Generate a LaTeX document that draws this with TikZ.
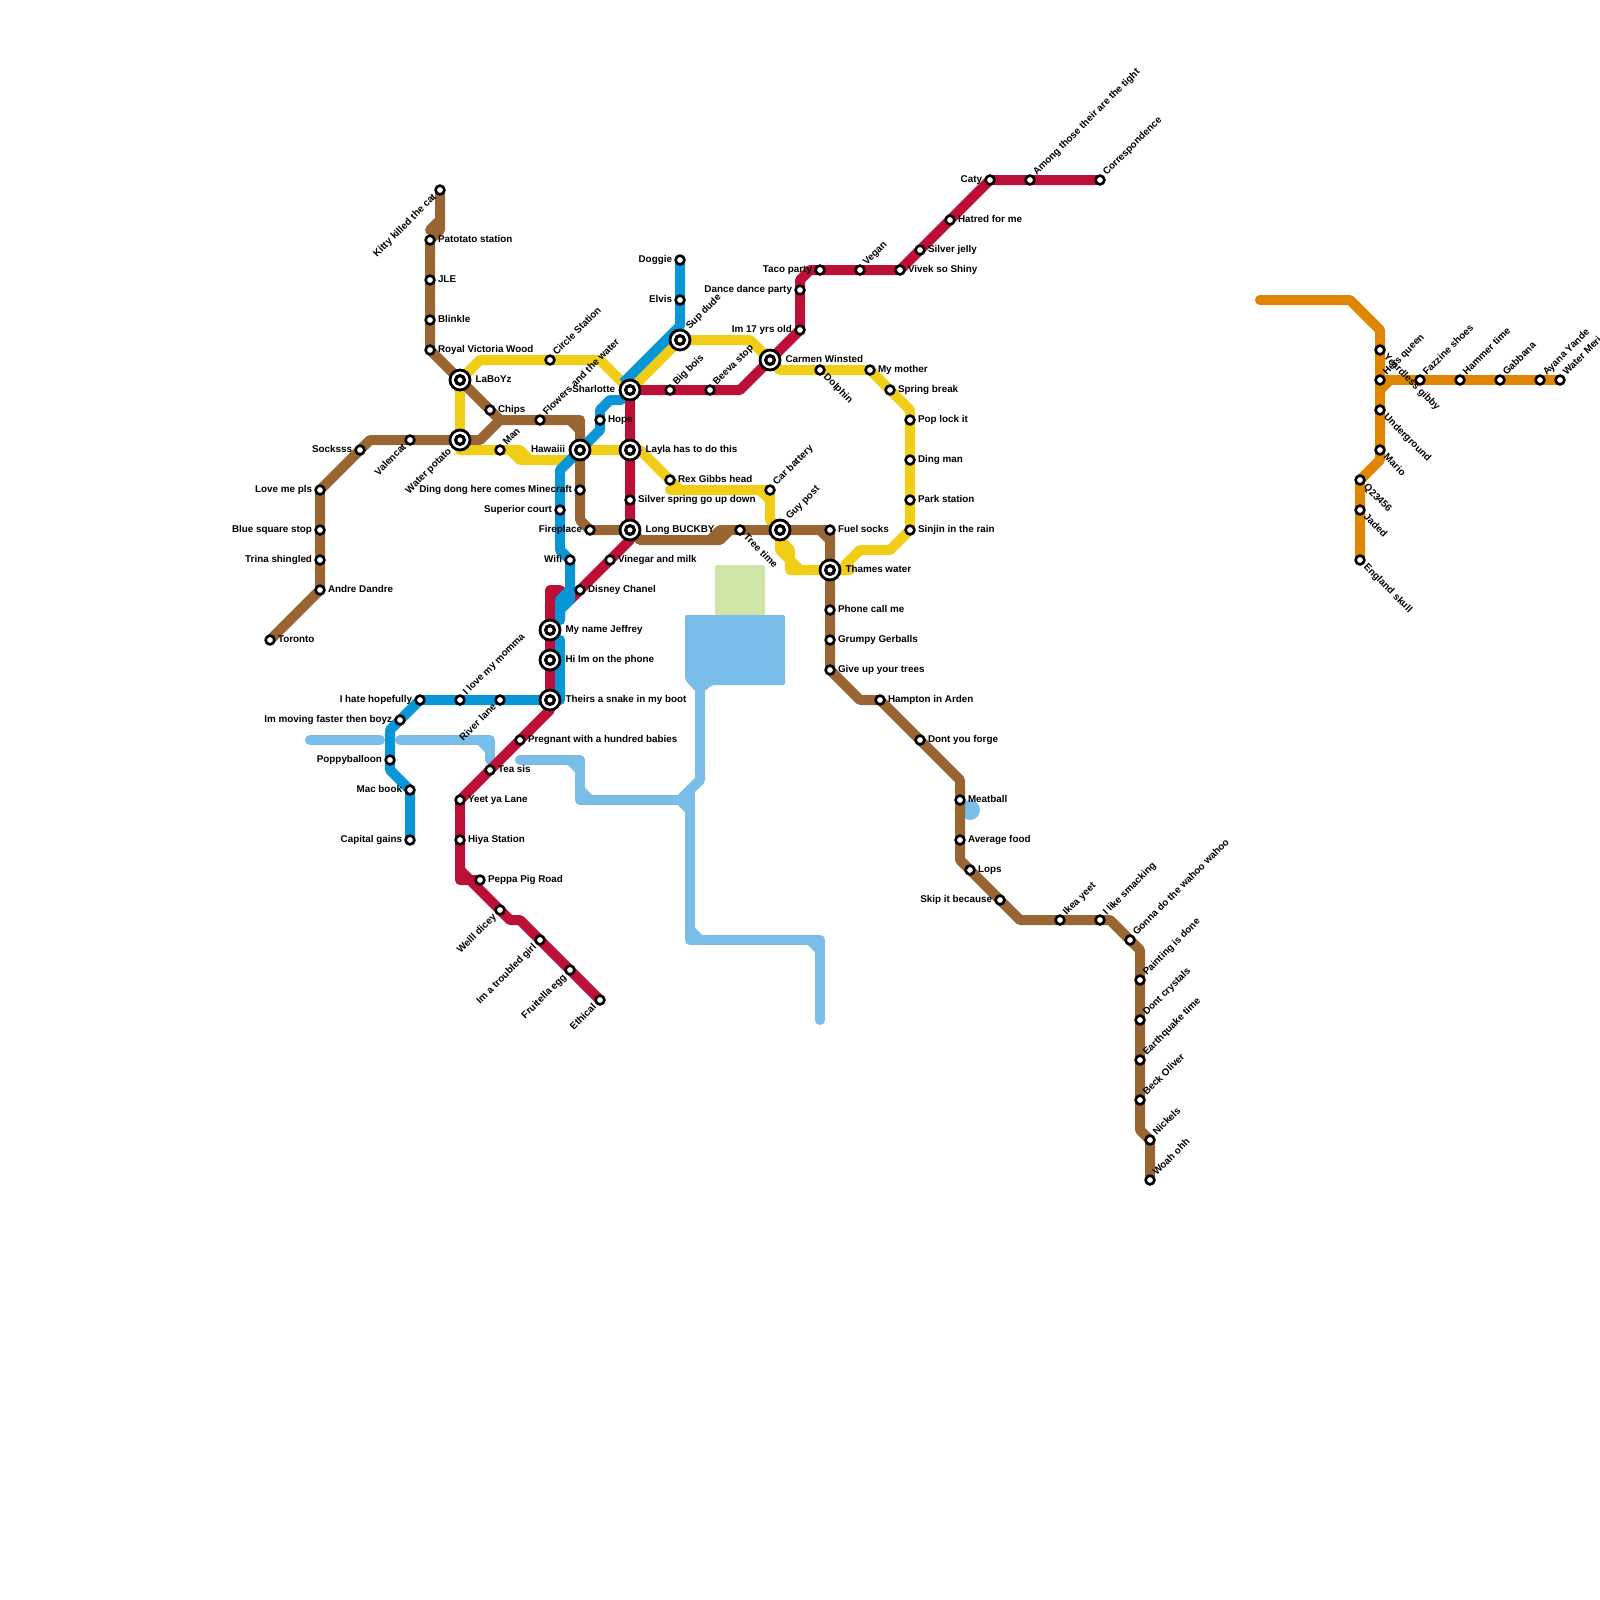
\documentclass[tikz,border=0pt]{standalone}
\usepackage{fontspec}
\setmainfont{Liberation Sans}
\pgfdeclarelayer{lines}
\pgfsetlayers{lines,main}
\definecolor{cbrown}{HTML}{996633}
\definecolor{cyellow}{HTML}{F0CE15}
\definecolor{cred}{HTML}{BD1038}
\definecolor{cblue}{HTML}{0896D7}
\definecolor{clight}{HTML}{79BDE9}
\definecolor{cgreen}{HTML}{CFE4A7}
\definecolor{corange}{HTML}{DF8600}
\tikzset{
  dot/.style={circle,draw=black,fill=white,line width=2.6pt,minimum size=8.8pt,inner sep=0pt,outer sep=0pt},
  hub/.style={circle,draw=black,fill=white,line width=2.8pt,minimum size=20pt,inner sep=0pt,outer sep=0pt},
  hubin/.style={circle,draw=black,fill=white,line width=3.2pt,minimum size=8.8pt,inner sep=0pt,outer sep=0pt},
  txt/.style={font=\fontsize{9.85}{12}\selectfont\bfseries,inner sep=0pt,outer sep=0pt,text height=7pt,text depth=2pt,text=black},
  tr/.style={txt,anchor=west,xshift=8pt,yshift=0pt},
  tl/.style={txt,anchor=east,xshift=-8pt,yshift=0pt},
  hr/.style={txt,anchor=west,xshift=15.5pt,yshift=0pt},
  hl/.style={txt,anchor=east,xshift=-15pt,yshift=0pt},
  tur/.style={txt,anchor=west,xshift=5pt,yshift=6pt,rotate=45},
  hur/.style={txt,anchor=west,xshift=8pt,yshift=12pt,rotate=45},
  tdl/.style={txt,anchor=east,xshift=-5pt,yshift=-6pt,rotate=45},
  hdl/.style={txt,anchor=east,xshift=-10pt,yshift=-10pt,rotate=45},
  tdr/.style={txt,anchor=west,xshift=5pt,yshift=-6pt,rotate=-45},
  mline/.style={line width=10pt,line join=round,line cap=round},
  yl/.style={mline,cyellow},
  br/.style={mline,cbrown},
  rd/.style={mline,cred},
  bl/.style={mline,cblue},
  lb/.style={mline,clight},
  og/.style={mline,corange},
}
\newcommand{\stn}[5]{\node[dot] (#1) at (#2,#3) {}; \node[#4] (#1-t) at (#2,#3) {#5};}
\newcommand{\hb}[5]{\node[hub] (#1) at (#2,#3) {}; \node[hubin] (#1-i) at (#2,#3) {}; \node[#4] (#1-t) at (#2,#3) {#5};}
\begin{document}
\begin{tikzpicture}[x=1pt,y=-1pt]
\useasboundingbox (0,0) rectangle (1600,1600);
\clip (0,0) rectangle (1600,1600);
% brown
\stn{kitty}{440}{190}{tdl}{Kitty killed the cat}
\stn{pat}{430}{240}{tr}{Patotato station}
\stn{jle}{430}{280}{tr}{JLE}
\stn{blink}{430}{320}{tr}{Blinkle}
\stn{royal}{430}{350}{tr}{Royal Victoria Wood}
\hb{labo}{460}{380}{hr}{LaBoYz}
\stn{chips}{490}{410}{tr}{Chips}
\hb{wpot}{460}{440}{hdl}{Water potato}
\stn{valen}{410}{440}{tdl}{Valencat}
\stn{sock}{360}{450}{tl}{Socksss}
\stn{love}{320}{490}{tl}{Love me pls}
\stn{bsq}{320}{530}{tl}{Blue square stop}
\stn{trina}{320}{560}{tl}{Trina shingled}
\stn{andre}{320}{590}{tr}{Andre Dandre}
\stn{toronto}{270}{640}{tr}{Toronto}
\stn{flowers}{540}{420}{tur}{Flowers and the water}
\hb{haw}{580}{450}{hl}{Hawaiii}
\stn{dingd}{580}{490}{tl}{Ding dong here comes Minecraft}
\stn{fire}{590}{530}{tl}{Fireplace}
\hb{long}{630}{530}{hr}{Long BUCKBY}
\stn{tree}{740}{530}{tdr}{Tree time}
\hb{guy}{780}{530}{hur}{Guy post}
\stn{fuel}{830}{530}{tr}{Fuel socks}
\hb{thames}{830}{570}{hr}{Thames water}
\stn{phone}{830}{610}{tr}{Phone call me}
\stn{grumpy}{830}{640}{tr}{Grumpy Gerballs}
\stn{giveup}{830}{670}{tr}{Give up your trees}
\stn{hampton}{880}{700}{tr}{Hampton in Arden}
\stn{dont}{920}{740}{tr}{Dont you forge}
\stn{meat}{960}{800}{tr}{Meatball}
\stn{avg}{960}{840}{tr}{Average food}
\stn{lops}{970}{870}{tr}{Lops}
\stn{skip}{1000}{900}{tl}{Skip it because}
\stn{ikea}{1060}{920}{tur}{Ikea yeet}
\stn{ilike}{1100}{920}{tur}{I like smacking}
\stn{gonna}{1130}{940}{tur}{Gonna do the wahoo wahoo}
\stn{paint}{1140}{980}{tur}{Painting is done}
\stn{dcry}{1140}{1020}{tur}{Dont crystals}
\stn{earth}{1140}{1060}{tur}{Earthquake time}
\stn{beck}{1140}{1100}{tur}{Beck Oliver}
\stn{nick}{1150}{1140}{tur}{Nickels}
\stn{woah}{1150}{1180}{tur}{Woah ohh}
% yellow
\stn{man}{500}{450}{tur}{Man}
\stn{circ}{550}{360}{tur}{Circle Station}
\hb{sharl}{630}{390}{hl}{Sharlotte}
\hb{layla}{630}{450}{hr}{Layla has to do this}
\stn{rex}{670}{480}{tr}{Rex Gibbs head}
\stn{carb}{770}{490}{tur}{Car battery}
\hb{supd}{680}{340}{hur}{Sup dude}
\hb{carmen}{770}{360}{hr}{Carmen Winsted}
\stn{dolph}{820}{370}{tdr}{Dolphin}
\stn{mother}{870}{370}{tr}{My mother}
\stn{spring}{890}{390}{tr}{Spring break}
\stn{pop}{910}{420}{tr}{Pop lock it}
\stn{dingm}{910}{460}{tr}{Ding man}
\stn{park}{910}{500}{tr}{Park station}
\stn{sinjin}{910}{530}{tr}{Sinjin in the rain}
% red
\stn{silvsp}{630}{500}{tr}{Silver spring go up down}
\stn{vine}{610}{560}{tr}{Vinegar and milk}
\stn{disney}{580}{590}{tr}{Disney Chanel}
\hb{jeff}{550}{630}{hr}{My name Jeffrey}
\hb{hiim}{550}{660}{hr}{Hi Im on the phone}
\hb{theirs}{550}{700}{hr}{Theirs a snake in my boot}
\stn{preg}{520}{740}{tr}{Pregnant with a hundred babies}
\stn{tea}{490}{770}{tr}{Tea sis}
\stn{yeet}{460}{800}{tr}{Yeet ya Lane}
\stn{hiya}{460}{840}{tr}{Hiya Station}
\stn{peppa}{480}{880}{tr}{Peppa Pig Road}
\stn{welll}{500}{910}{tdl}{Welll dicey}
\stn{itg}{540}{940}{tdl}{Im a troubled girl}
\stn{fruit}{570}{970}{tdl}{Fruitella egg}
\stn{ethical}{600}{1000}{tdl}{Ethical}
\stn{bigb}{670}{390}{tur}{Big bois}
\stn{beeva}{710}{390}{tur}{Beeva stop}
\stn{imsev}{800}{330}{tl}{Im 17 yrs old}
\stn{dance}{800}{290}{tl}{Dance dance party}
\stn{taco}{820}{270}{tl}{Taco party}
\stn{vegan}{860}{270}{tur}{Vegan}
\stn{vivek}{900}{270}{tr}{Vivek so Shiny}
\stn{sjelly}{920}{250}{tr}{Silver jelly}
\stn{hatred}{950}{220}{tr}{Hatred for me}
\stn{caty}{990}{180}{tl}{Caty}
\stn{among}{1030}{180}{tur}{Among those their are the tight}
\stn{corr}{1100}{180}{tur}{Correspondence}
% blue
\stn{doggie}{680}{260}{tl}{Doggie}
\stn{elvis}{680}{300}{tl}{Elvis}
\stn{hope}{600}{420}{tr}{Hope}
\stn{sup}{560}{510}{tl}{Superior court}
\stn{wifi}{570}{560}{tl}{Wifi}
\stn{river}{500}{700}{tdl}{River lane}
\stn{ilove}{460}{700}{tur}{I love my momma}
\stn{ihate}{420}{700}{tl}{I hate hopefully}
\stn{immov}{400}{720}{tl}{Im moving faster then boyz}
\stn{poppy}{390}{760}{tl}{Poppyballoon}
\stn{mac}{410}{790}{tl}{Mac book}
\stn{capital}{410}{840}{tl}{Capital gains}
% orange
\stn{hers}{1380}{350}{tdr}{Yeardless gibby}
\stn{yeardl}{1380}{380}{tur}{Hers queen}
\stn{under}{1380}{410}{tdr}{Underground}
\stn{mario}{1380}{450}{tdr}{Mario}
\stn{qnum}{1360}{480}{tdr}{Q23456}
\stn{jaded}{1360}{510}{tdr}{Jaded}
\stn{england}{1360}{560}{tdr}{England skull}
\stn{fazz}{1420}{380}{tur}{Fazzine shoes}
\stn{hammer}{1460}{380}{tur}{Hammer time}
\stn{gabb}{1500}{380}{tur}{Gabbana}
\stn{ayana}{1540}{380}{tur}{Ayana Yande}
\stn{water}{1560}{380}{tur}{Water Meri}

\begin{pgfonlayer}{lines}
% pale shapes
\fill[cgreen,rounded corners=2pt] (715,565) rectangle (765,616);
\fill[clight,rounded corners=2pt] (685,615) -- (785,615) -- (785,685) -- (712,685) -- (705,691) -- (695,691) -- (685,680) -- cycle;
\fill[clight] (970,810) circle (10pt);
\draw[lb] (700,685) -- (700,780) -- (680,800);
\draw[lb] (690,790) -- (690,940) -- (820,940) -- (820,1020);
\draw[lb] (690,930) -- (700,940);
\draw[lb] (810,940) -- (820,950);
\draw[lb] (520,760) -- (580,760) -- (580,800) -- (690,800);
\draw[lb] (570,760) -- (580,770);
\draw[lb] (580,790) -- (590,800);
\draw[lb] (680,800) -- (690,810);
\draw[lb] (310,740) -- (380,740);
\draw[lb] (400,740) -- (490,740) -- (490,760);
\draw[lb] (480,740) -- (490,750);
% yellow
\draw[yl] (460,450) -- (wpot.center) -- (labo.center) -- (480,360) -- (circ.center) -- (600,360) -- (sharl.center) -- (supd.center) -- (750,340) -- (carmen.center) -- (780,370) -- (dolph.center) -- (mother.center) -- (spring.center) -- (910,410) -- (pop.center) -- (dingm.center) -- (park.center) -- (sinjin.center) -- (890,550) -- (860,550) -- (845,565);
\draw[yl] (460,450) -- (man.center) -- (520,450) -- (530,460) -- (570,460) -- (haw.center) -- (layla.center) -- (640,450) -- (680,490) -- (670,490) -- (carb.center) -- (770,520) -- (guy.center) -- (780,550) -- (790,560) -- (790,570) -- (thames.center) -- (850,570);
\draw[yl] (510,450) -- (520,460) -- (530,460);
\draw[yl] (760,490) -- (770,500);
\draw[yl] (780,540) -- (790,550) -- (790,560) -- (800,570);
% brown
\draw[br] (kitty.center) -- (440,230) -- (pat.center) -- (jle.center) -- (blink.center) -- (royal.center) -- (labo.center) -- (chips.center) -- (500,420) -- (flowers.center) -- (580,420) -- (haw.center) -- (dingd.center) -- (580,520) -- (fire.center) -- (long.center) -- (640,540) -- (720,540) -- (730,530) -- (tree.center) -- (guy.center) -- (fuel.center) -- (thames.center) -- (phone.center) -- (grumpy.center) -- (giveup.center) -- (860,700) -- (hampton.center) -- (dont.center) -- (960,780) -- (meat.center) -- (avg.center) -- (960,860) -- (lops.center) -- (skip.center) -- (1020,920) -- (ikea.center) -- (ilike.center) -- (1110,920) -- (gonna.center) -- (1140,950) -- (paint.center) -- (dcry.center) -- (earth.center) -- (beck.center) -- (1140,1130) -- (nick.center) -- (woah.center);
\draw[br] (wpot.center) -- (valen.center) -- (370,440) -- (sock.center) -- (love.center) -- (bsq.center) -- (trina.center) -- (andre.center) -- (toronto.center);
\draw[br] (wpot.center) -- (480,440) -- (500,420);
\draw[br] (440,220) -- (430,230);
\draw[br] (570,420) -- (580,430);
\draw[br] (820,530) -- (830,540);
\draw[br] (710,540) -- (720,530) -- (730,530);
% red
\draw[rd] (sharl.center) -- (layla.center) -- (silvsp.center) -- (long.center) -- (630,540) -- (vine.center) -- (disney.center) -- (570,600) -- (560,590) -- (550,590) -- (jeff.center) -- (hiim.center) -- (theirs.center) -- (550,710) -- (preg.center) -- (tea.center) -- (yeet.center) -- (hiya.center) -- (460,880) -- (470,880) -- (510,920) -- (520,920) -- (itg.center) -- (fruit.center) -- (ethical.center);
\draw[rd] (550,600) -- (560,600);
\draw[rd] (460,870) -- (470,880) -- (peppa.center);
\draw[rd] (sharl.center) -- (bigb.center) -- (beeva.center) -- (740,390) -- (carmen.center) -- (imsev.center) -- (dance.center) -- (800,280) -- (810,270) -- (taco.center) -- (vegan.center) -- (vivek.center) -- (sjelly.center) -- (hatred.center) -- (caty.center) -- (among.center) -- (corr.center);
% blue
\draw[bl,line cap=butt] (doggie.center) -- (elvis.center) -- (680,326) -- (623,383);
\draw[bl] (621,400) -- (610,400) -- (600,410) -- (hope.center) -- (600,430) -- (haw.center) -- (560,470) -- (sup.center) -- (560,550) -- (wifi.center) -- (570,600) -- (560,610) -- (560,620);
\draw[bl] (570,590) -- (560,600) -- (560,620);
\draw[bl] (560,640) -- (560,700) -- (theirs.center) -- (river.center) -- (ilove.center) -- (ihate.center) -- (immov.center) -- (390,730) -- (poppy.center) -- (390,770) -- (mac.center) -- (capital.center);
% orange
\draw[og] (1260,300) -- (1350,300) -- (1380,330) -- (hers.center) -- (yeardl.center) -- (under.center) -- (mario.center) -- (1380,460) -- (qnum.center) -- (jaded.center) -- (england.center);
\draw[og] (yeardl.center) -- (fazz.center) -- (hammer.center) -- (gabb.center) -- (ayana.center) -- (water.center);
\draw[og] (1380,390) -- (1390,380);
\end{pgfonlayer}
\end{tikzpicture}
\end{document}
